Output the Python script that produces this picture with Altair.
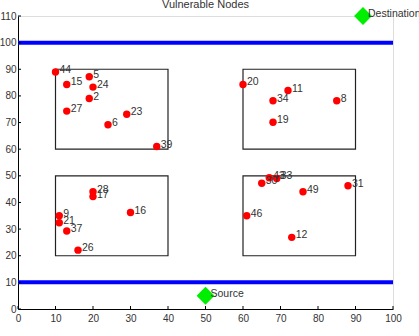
import altair as alt
import pandas as pd

# node data
node_ids = [44, 15, 5, 24, 2, 27, 6, 23, 39,
            20, 11, 34, 8, 19,
            28, 17, 9, 21, 37, 16, 26,
            43, 33, 30, 49, 31, 46, 12]
node_x = [10, 13, 19, 20, 19, 13, 24, 29, 37,
          60, 72, 68, 85, 68,
          20, 20, 11, 11, 13, 30, 16,
          67, 69, 65, 76, 88, 61, 73]
node_y = [89, 84.3, 87.2, 83.3, 79, 74.3, 69.2, 73.1, 61,
          84.3, 82, 78.2, 78.2, 70.1,
          44, 42.2, 35, 32.4, 29.3, 36.2, 22.1,
          49.3, 49, 47.2, 44, 46.3, 35, 26.9]

# regions
box_x1 = [10, 60, 10, 60]
box_x2 = [40, 90, 40, 90]
box_y1 = [60, 60, 20, 20]
box_y2 = [90, 90, 50, 50]

# boundary lines
line_y = [10, 100]
line_x1 = [0, 0]
line_x2 = [100, 100]

# source / destination
sd_names = ["Source", "Destination"]
sd_x = [50, 92]
sd_y = [5, 110]

x_ticks = list(range(0, 101, 10))
y_ticks = list(range(0, 111, 10))

TITLE = "Vulnerable Nodes"

W, H = 375, 293
FONT = "Liberation Sans"
TXT = "#333333"

nodes = pd.DataFrame({"id": [str(i) for i in node_ids], "x": node_x, "y": node_y})
boxes = pd.DataFrame({"x1": box_x1, "x2": box_x2, "y1": box_y1, "y2": box_y2})
lines = pd.DataFrame({"y": line_y, "x1": line_x1, "x2": line_x2})
sd = pd.DataFrame({"name": sd_names, "x": sd_x, "y": sd_y})
xt = pd.DataFrame({"t": x_ticks})
yt = pd.DataFrame({"t": y_ticks})
tt = pd.DataFrame({"title": [TITLE]})

xs = alt.Scale(domain=[0, 100], nice=False, zero=False)
ys = alt.Scale(domain=[0, 110], nice=False, zero=False)

xaxis = alt.Axis(values=x_ticks, ticks=False, grid=False, domainColor="black",
                 labelFont=FONT, labelFontSize=10, labelColor=TXT, labelPadding=4,
                 title=None, labelFlush=False, labelOverlap=False)
yaxis = alt.Axis(values=y_ticks, ticks=False, grid=False, domainColor="black",
                 labelFont=FONT, labelFontSize=10, labelColor=TXT, labelPadding=2,
                 title=None, labelOverlap=False, labelFlush=False)


def X(f):
    return alt.X(f, scale=xs, axis=xaxis)


def Y(f):
    return alt.Y(f, scale=ys, axis=yaxis)


rects = alt.Chart(boxes).mark_rect(fillOpacity=0, stroke="#222222", strokeWidth=1.2).encode(
    x=X("x1:Q"), x2="x2:Q", y=Y("y1:Q"), y2="y2:Q",
)

blue = alt.Chart(lines).mark_rule(color="#0000ff", strokeWidth=4).encode(
    x=X("x1:Q"), x2="x2:Q", y=Y("y:Q")
)

pts = alt.Chart(nodes).mark_circle(color="#ff0000", size=55, opacity=1).encode(
    x=X("x:Q"), y=Y("y:Q")
)

lbl = alt.Chart(nodes).mark_text(align="left", dx=4, dy=-2, font=FONT, fontSize=10.5, color=TXT).encode(
    x=X("x:Q"), y=Y("y:Q"), text="id:N"
)

dia = alt.Chart(sd).mark_point(shape="diamond", filled=True, color="#00ee00", size=320, opacity=1).encode(
    x=X("x:Q"), y=Y("y:Q")
)

dlbl = alt.Chart(sd).mark_text(align="left", dx=5, dy=-2, font=FONT, fontSize=10.5, color=TXT).encode(
    x=X("x:Q"), y=Y("y:Q"), text="name:N"
)

xticks = alt.Chart(xt).mark_rule(color="black", strokeWidth=1).encode(
    x=X("t:Q"), y=alt.value(H), y2=alt.value(H - 3)
)
yticks = alt.Chart(yt).mark_rule(color="black", strokeWidth=1).encode(
    y=Y("t:Q"), x=alt.value(0), x2=alt.value(3)
)

title = alt.Chart(tt).mark_text(align="center", baseline="alphabetic", font=FONT, fontSize=11,
                                color=TXT).encode(
    x=alt.value(W / 2), y=alt.value(-8), text="title:N"
)

chart = alt.layer(rects, blue, xticks, yticks, pts, lbl, dia, dlbl, title).properties(
    width=W, height=H,
    autosize=alt.AutoSizeParams(type="none"),
    padding={"left": 18, "top": 16, "right": 26, "bottom": 27},
).configure_view(stroke=None).configure(background="white")

chart.save("out.html", embed_options={"renderer": "svg", "actions": False})
